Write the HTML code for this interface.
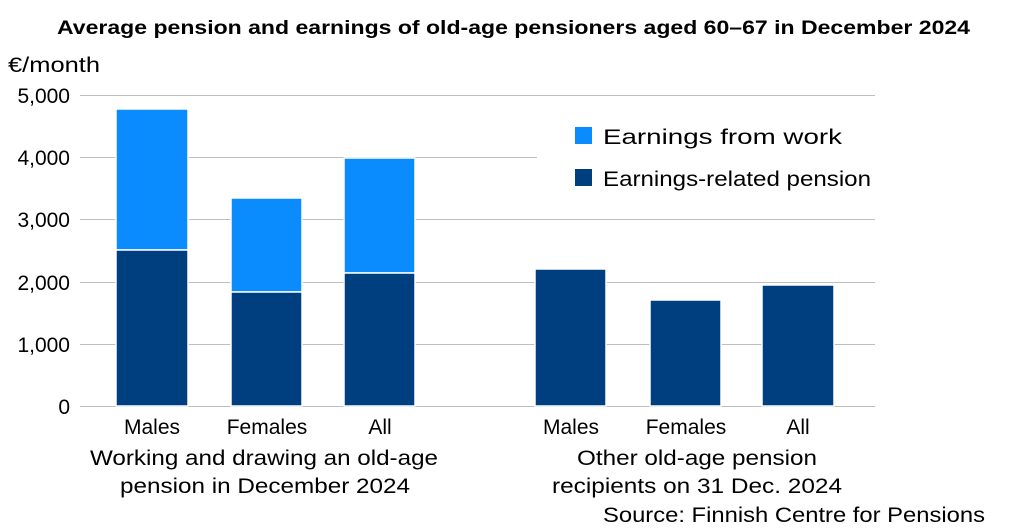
<!DOCTYPE html>
<html><head><meta charset="utf-8"><style>body{margin:0;background:#fff}svg{display:block}text{font-family:"Liberation Sans",sans-serif;fill:#000}</style></head><body>
<svg width="1024" height="530" xmlns="http://www.w3.org/2000/svg">
<text x="57" y="34" font-size="19" font-weight="bold" textLength="913" lengthAdjust="spacingAndGlyphs">Average pension and earnings of old-age pensioners aged 60–67 in December 2024</text>
<text x="8" y="72" font-size="21" textLength="92" lengthAdjust="spacingAndGlyphs">€/month</text>
<g stroke="#bfbfbf" stroke-width="1">
<line x1="80" y1="95.5" x2="875" y2="95.5"/>
<line x1="80" y1="157.5" x2="875" y2="157.5"/>
<line x1="80" y1="219.5" x2="875" y2="219.5"/>
<line x1="80" y1="282.5" x2="875" y2="282.5"/>
<line x1="80" y1="344.5" x2="875" y2="344.5"/>
<line x1="80" y1="406.5" x2="875" y2="406.5"/>
</g>
<rect x="537" y="112" width="345" height="90" fill="#fff"/>
<g font-size="21" text-anchor="end">
<text x="70" y="103">5,000</text><text x="70" y="165">4,000</text><text x="70" y="227">3,000</text><text x="70" y="290">2,000</text><text x="70" y="352">1,000</text><text x="70" y="414">0</text>
</g>
<g stroke="#fff" stroke-width="1.5">
<rect x="116" y="109" width="72" height="141" fill="#0a8cff"/>
<rect x="116" y="250" width="72" height="156" fill="#003f7f"/>
<rect x="231" y="198" width="71" height="94" fill="#0a8cff"/>
<rect x="231" y="292" width="71" height="114" fill="#003f7f"/>
<rect x="344" y="158" width="71" height="115" fill="#0a8cff"/>
<rect x="344" y="273" width="71" height="133" fill="#003f7f"/>
<rect x="535" y="269" width="71" height="137" fill="#003f7f"/>
<rect x="650" y="300" width="71" height="106" fill="#003f7f"/>
<rect x="762" y="285" width="72" height="121" fill="#003f7f"/>
</g>
<rect x="575" y="127" width="17" height="17" fill="#0a8cff"/>
<text x="603" y="144" font-size="21" textLength="239" lengthAdjust="spacingAndGlyphs">Earnings from work</text>
<rect x="575" y="169" width="17" height="17" fill="#003f7f"/>
<text x="603" y="186" font-size="21" textLength="268" lengthAdjust="spacingAndGlyphs">Earnings-related pension</text>
<g font-size="21" text-anchor="middle">
<text x="152" y="434">Males</text><text x="267" y="434">Females</text><text x="380" y="434">All</text>
<text x="571" y="434">Males</text><text x="686" y="434">Females</text><text x="798" y="434">All</text>
</g>
<g font-size="21">
<text x="90" y="465" textLength="348" lengthAdjust="spacingAndGlyphs">Working and drawing an old-age</text>
<text x="120" y="493" textLength="290" lengthAdjust="spacingAndGlyphs">pension in December 2024</text>
<text x="577" y="465" textLength="240" lengthAdjust="spacingAndGlyphs">Other old-age pension</text>
<text x="552" y="493" textLength="290" lengthAdjust="spacingAndGlyphs">recipients on 31 Dec. 2024</text>
<text x="603" y="522" textLength="382" lengthAdjust="spacingAndGlyphs">Source: Finnish Centre for Pensions</text>
</g>
</svg>
</body></html>
